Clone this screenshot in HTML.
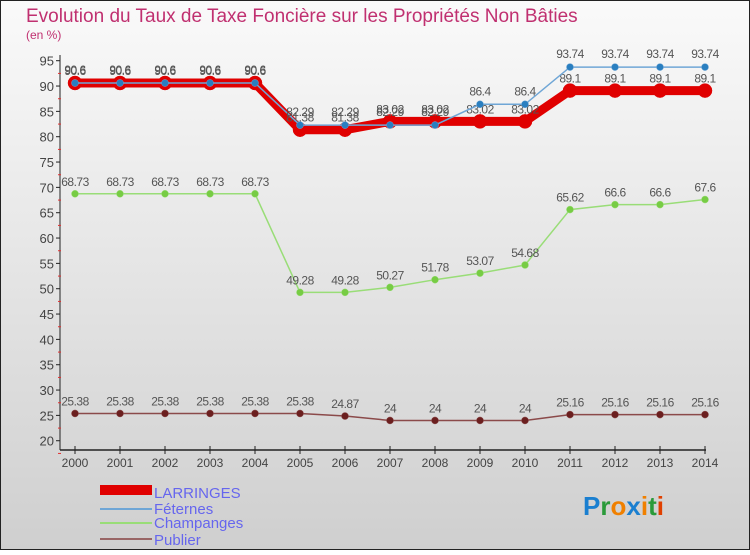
<!DOCTYPE html>
<html><head><meta charset="utf-8"><style>
body{margin:0;width:750px;height:550px;overflow:hidden;font-family:"Liberation Sans",sans-serif}
</style></head><body>
<svg id="c" width="750" height="550" xmlns="http://www.w3.org/2000/svg">
<defs><linearGradient id="bg" x1="0" y1="0" x2="0" y2="1"><stop offset="0" stop-color="#fafafa"/><stop offset="1" stop-color="#cfcfcf"/></linearGradient></defs>
<rect x="0.5" y="0.5" width="749" height="549" fill="url(#bg)" stroke="#222"/>
<text x="26" y="22" font-size="19" fill="#c03070">Evolution du Taux de Taxe Foncière sur les Propriétés Non Bâties</text>
<text x="26" y="39" font-size="12" fill="#c03070">(en %)</text>
<g id="axes"></g><g id="series"></g>
<g>
<rect x="100" y="485" width="52" height="10" fill="#e00000"/>
<text x="154" y="498" font-size="15" fill="#6666ee">LARRINGES</text>
<line x1="100" y1="509" x2="152" y2="509" stroke="#6fa6d6" stroke-width="2"/>
<text x="154" y="514" font-size="15" fill="#6666ee">Féternes</text>
<line x1="100" y1="523" x2="152" y2="523" stroke="#99dd77" stroke-width="2"/>
<text x="154" y="528" font-size="15" fill="#6666ee">Champanges</text>
<line x1="100" y1="539" x2="152" y2="539" stroke="#996666" stroke-width="2"/>
<text x="154" y="545" font-size="15" fill="#6666ee">Publier</text>
</g>
<g font-size="26" font-weight="bold">
<text x="583" y="515"><tspan fill="#1a7fd0">P</tspan><tspan fill="#2a9a3a">r</tspan><tspan fill="#f08000">o</tspan><tspan fill="#1a7fd0">x</tspan><tspan fill="#f08000">i</tspan><tspan fill="#2a9a3a">t</tspan><tspan fill="#e04000">i</tspan></text>
</g>
</svg>
<script>
const years=[2000,2001,2002,2003,2004,2005,2006,2007,2008,2009,2010,2011,2012,2013,2014];
const larringes=[90.6,90.6,90.6,90.6,90.6,81.38,81.38,83.02,83.02,83.02,83.02,89.1,89.1,89.1,89.1];
const feternes=[90.6,90.6,90.6,90.6,90.6,82.29,82.29,82.29,82.29,86.4,86.4,93.74,93.74,93.74,93.74];
const champanges=[68.73,68.73,68.73,68.73,68.73,49.28,49.28,50.27,51.78,53.07,54.68,65.62,66.6,66.6,67.6];
const publier=[25.38,25.38,25.38,25.38,25.38,25.38,24.87,24,24,24,24,25.16,25.16,25.16,25.16];
const yTicks=[20,25,30,35,40,45,50,55,60,65,70,75,80,85,90,95];
const NS="http://www.w3.org/2000/svg";
const xs=i=>75+i*45;
const ys=v=>60.7+(95-v)*5.067;
function mk(t,a,p){const e=document.createElementNS(NS,t);for(const k in a)e.setAttribute(k,a[k]);p.appendChild(e);return e;}
const ax=document.getElementById('axes');
let l=mk('line',{x1:60,y1:55,x2:60,y2:450,stroke:'#222'},ax);


l=mk('line',{x1:60,y1:450,x2:706,y2:450,stroke:'#222','stroke-width':1.5},ax);


yTicks.forEach(v=>{const y=ys(v);
 mk('line',{x1:56,y1:y,x2:60,y2:y,stroke:'#222'},ax);
 mk('line',{x1:58,y1:y+12.7,x2:61,y2:y+12.7,stroke:'#e03030'},ax);
 const t=mk('text',{x:54,y:y+5,'font-size':13,fill:'#444','text-anchor':'end'},ax);t.textContent=v;
 
 });
years.forEach((yr,i)=>{const x=xs(i);
 mk('line',{x1:x,y1:446,x2:x,y2:454,stroke:'#222'},ax);
 const t=mk('text',{x:x,y:467,'font-size':12,fill:'#444','text-anchor':'middle'},ax);t.textContent=yr;
 
 });
const sg=document.getElementById('series');
function series(name,vals,color,w,r,dot,labOff){
 const g=mk('g',{},sg);
 
 
 mk('polyline',{points:vals.map((v,i)=>xs(i)+','+ys(v)).join(' '),fill:'none',stroke:color,'stroke-width':w},g);
 vals.forEach((v,i)=>{const c=mk('circle',{cx:xs(i),cy:ys(v),r:r,fill:dot,stroke:color,'stroke-width':0.5},g);
  
  
  const t=mk('text',{x:xs(i),y:ys(v)+labOff,'font-size':12,fill:'#555','text-anchor':'middle','letter-spacing':'-0.5'},g);t.textContent=v;
  
  });
}
series('publier',publier,'#8b4a4a',1.5,3.5,'#6b1f1f',-8);
series('champanges',champanges,'#99dd77',1.5,3.5,'#77cc44',-8);
series('larringes',larringes,'#e00000',9,7,'#e00000',-8);
series('feternes',feternes,'#6fa6d6',1.5,3.5,'#2a7fc0',-9);
</script>
</body></html>
